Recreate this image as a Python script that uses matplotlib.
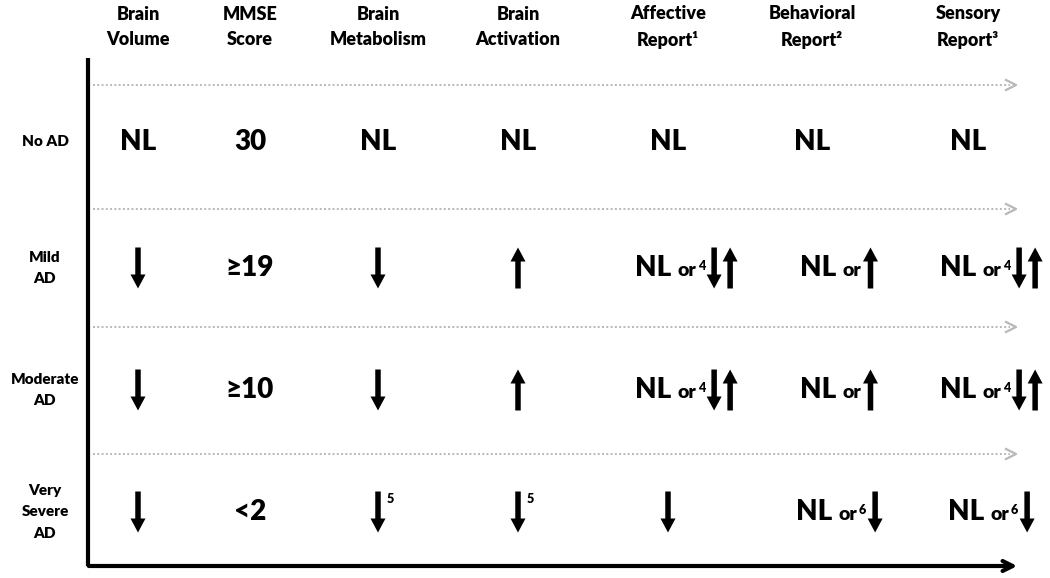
import matplotlib.pyplot as plt

plt.rcParams['font.family'] = ['Lato', 'DejaVu Sans']

# column headers and stage labels
headers = ['Brain\nVolume', 'MMSE\nScore', 'Brain\nMetabolism', 'Brain\nActivation',
           'Affective\nReport¹', 'Behavioral\nReport²', 'Sensory\nReport³']
stages = ['No AD', 'Mild\nAD', 'Moderate\nAD', 'Very\nSevere\nAD']

# cell contents: tokens separated by spaces, D = down arrow, U = up arrow, ^n = footnote
no_ad = ['NL', '30', 'NL', 'NL', 'NL', 'NL', 'NL']
mild = ['D', '≥19', 'D', 'U', 'NL or ^4 D U', 'NL or U', 'NL or ^4 D U']
moderate = ['D', '≥10', 'D', 'U', 'NL or ^4 D U', 'NL or U', 'NL or ^4 D U']
very_severe = ['D', '<2', 'D ^5', 'D ^5', 'D', 'NL or ^6 D', 'NL or ^6 D']
table = [no_ad, mild, moderate, very_severe]

# layout (pixels)
col_x = [138, 250, 378, 518, 668, 812, 968]
comp_shift = [0, 0, 0, 0, 18, 27, 23]   # "NL or ..." cells sit right of the header
row_y = [142, 268, 390, 512]
sep_y = [85, 209, 327, 454]
W = 'heavy'

fig = plt.figure(figsize=(10.5, 5.78), dpi=100)
ax = fig.add_axes([0, 0, 1, 1])
ax.set_xlim(0, 1050)
ax.set_ylim(578, 0)
ax.axis('off')
renderer = fig.canvas.get_renderer()

for x, h in zip(col_x, headers):
    ax.text(x, 27, h, ha='center', va='center', fontsize=13, fontweight=W,
            linespacing=1.6)

for y, s in zip(row_y, stages):
    ax.text(45, y, s, ha='center', va='center', fontsize=11, fontweight=W,
            linespacing=1.75)

# dotted separators with open arrowheads
for y in sep_y:
    ax.plot([93, 1010], [y, y], color='#b8b8b8', lw=1.4, ls=(0, (1, 1.2)))
    ax.plot([1006, 1016, 1006], [y - 5, y, y + 5], color='#b8b8b8', lw=1.6)

# main axes
ax.plot([88, 88], [58, 566], color='black', lw=3, solid_capstyle='butt')
ax.annotate('', xy=(1020, 566), xytext=(86, 566),
            arrowprops=dict(arrowstyle='->', lw=3, color='black', mutation_scale=18))


def tok_width(tok):
    if tok in ('D', 'U'):
        return 14
    if tok.startswith('^'):
        t = ax.text(0, 0, tok[1:], fontsize=9, fontweight=W)
    elif tok == 'or':
        t = ax.text(0, 0, tok, fontsize=14, fontweight=W)
    else:
        t = ax.text(0, 0, tok, fontsize=20, fontweight=W)
    w = t.get_window_extent(renderer).width
    t.remove()
    return w


def draw_arrow(x, y, up):
    L = 41
    if up:
        ax.arrow(x, y + L / 2, 0, -L, width=5.5, head_width=15, head_length=14,
                 length_includes_head=True, color='black', lw=0)
    else:
        ax.arrow(x, y - L / 2, 0, L, width=5.5, head_width=15, head_length=14,
                 length_includes_head=True, color='black', lw=0)


gap = {'NL': 6, 'or': 2}
for y, row in zip(row_y, table):
    for x, shift, cell in zip(col_x, comp_shift, row):
        toks = cell.split()
        widths = [tok_width(t) for t in toks]
        gaps = [gap.get(t, 2) for t in toks[:-1]]
        total = sum(widths) + sum(gaps)
        if len(toks) > 1 and toks[0] in ('D', 'U'):
            cx = x - 7
        elif len(toks) > 1:
            cx = x + shift - total / 2
        else:
            cx = x - total / 2
        prev = None
        for i, (t, w) in enumerate(zip(toks, widths)):
            if t in ('D', 'U'):
                draw_arrow(cx + w / 2, y, t == 'U')
            elif t.startswith('^'):
                sy = y - 13 if prev in ('D', 'U') else y - 2
                ax.text(cx, sy, t[1:], fontsize=9, fontweight=W, ha='left', va='center')
            elif t == 'or':
                ax.text(cx, y + 3, t, fontsize=14, fontweight=W, ha='left', va='center')
            else:
                ax.text(cx, y, t, fontsize=20, fontweight=W, ha='left', va='center')
            cx += w + (gaps[i] if i < len(gaps) else 0)
            prev = t

fig.savefig('out.png', dpi=100)
